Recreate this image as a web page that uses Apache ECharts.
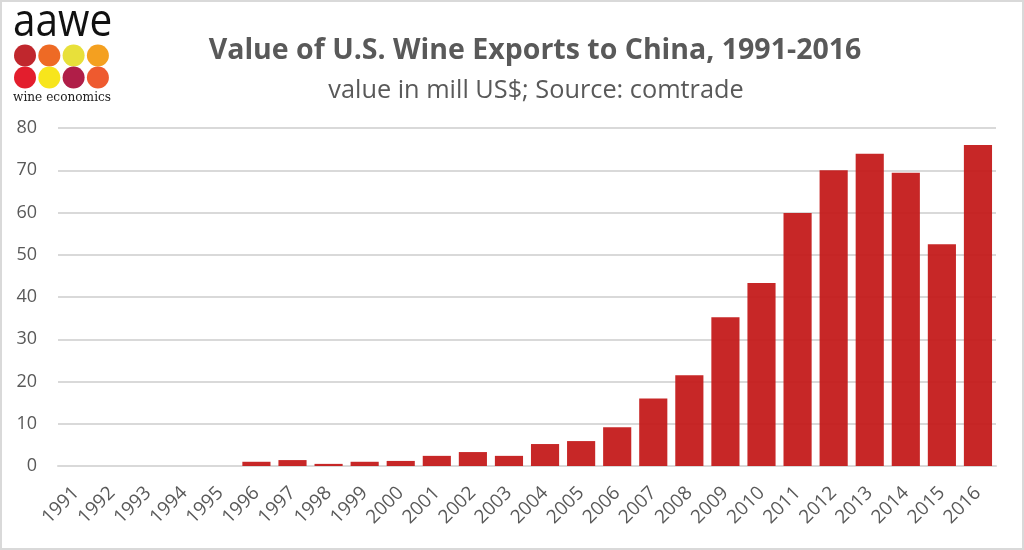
<!DOCTYPE html>
<html>
<head>
<meta charset="utf-8">
<script src="https://cdn.jsdelivr.net/npm/echarts@6/dist/echarts.min.js"></script>
<style>
html,body{margin:0;padding:0;background:#fff;}
#c{width:1024px;height:550px;box-sizing:border-box;border:2px solid #d9d9d9;}
</style>
</head>
<body>
<div id="c"></div>
<script>
const years = ['1991','1992','1993','1994','1995','1996','1997','1998','1999','2000','2001','2002','2003','2004','2005','2006','2007','2008','2009','2010','2011','2012','2013','2014','2015','2016'];
const exportValues = [0,0,0,0,0,1.0,1.4,0.5,1.0,1.2,2.4,3.3,2.4,5.2,5.9,9.2,16.0,21.5,35.2,43.3,59.9,70.0,73.9,69.4,52.5,76.0];
const titleText = 'Value of U.S. Wine Exports to China, 1991-2016';
const subtitleText = 'value in mill US$; Source: comtrade';
const logoColors = ['#c0272d','#ee6a25','#e8e03a','#f4a020','#e31e2d','#f7e51c','#b01e48','#ee5a2f'];

const chart = echarts.init(document.getElementById('c'));
const circles = logoColors.map((col, i) => ({
  type: 'circle',
  shape: { cx: 23 + (i % 4) * 24.3, cy: 53.5 + Math.floor(i / 4) * 22, r: 11 },
  style: { fill: col }
}));
chart.setOption({
  animation: false,
  textStyle: { fontFamily: 'Open Sans' },
  title: [
    { text: titleText, left: 528, top: 29, textAlign: 'center',
      textStyle: { fontFamily: 'Open Sans', fontWeight: 'bold', fontSize: 28.5, color: '#595959' } },
    { text: subtitleText, left: 529, top: 71, textAlign: 'center',
      textStyle: { fontFamily: 'Open Sans', fontWeight: 'normal', fontSize: 25.3, color: '#595959' } }
  ],
  graphic: [
    { type: 'text', x: 11, y: -1, scaleX: 0.9, style: { text: 'aawe', fontFamily: 'Open Sans', fontSize: 45, fill: '#111' } },
    ...circles,
    { type: 'text', x: 11, y: 88, scaleX: 0.9, style: { text: 'wine economics', fontFamily: 'DejaVu Serif', fontSize: 13.5, fill: '#222' } }
  ],
  grid: { left: 56, right: 26, top: 126, bottom: 82, containLabel: false },
  xAxis: {
    type: 'category',
    data: years,
    axisLine: { show: true, lineStyle: { color: '#d9d9d9', width: 2 } },
    axisTick: { show: false },
    axisLabel: { rotate: 45, color: '#595959', fontSize: 19, margin: 24, interval: 0 }
  },
  yAxis: {
    type: 'value',
    min: 0, max: 80, interval: 10,
    axisLine: { show: false },
    axisTick: { show: false },
    axisLabel: { color: '#595959', fontSize: 18, margin: 21 },
    splitLine: { lineStyle: { color: '#d9d9d9', width: 2 } }
  },
  series: [{
    type: 'bar',
    data: exportValues,
    barCategoryGap: '22%',
    itemStyle: { color: '#c41a1a', opacity: 0.94 }
  }]
});
</script>
</body>
</html>
